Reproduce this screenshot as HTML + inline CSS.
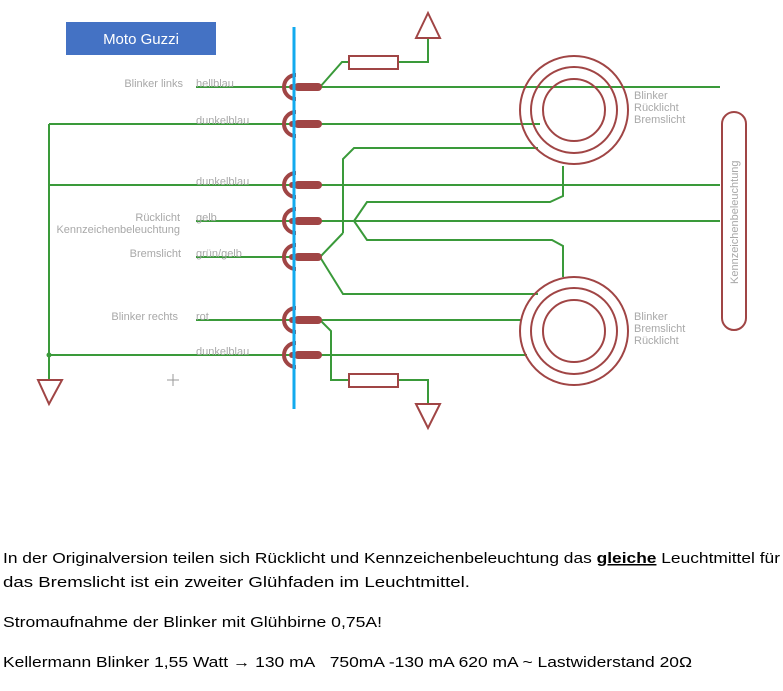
<!DOCTYPE html>
<html><head><meta charset="utf-8"><style>
html,body{margin:0;padding:0;background:#fff;width:783px;height:691px;overflow:hidden}
svg{display:block}
.g{fill:none;stroke:#3a9a3a;stroke-width:2}
.r{fill:none;stroke:#a04545;stroke-width:2}
.lbl{font-family:"Liberation Sans",sans-serif;font-size:11px;fill:#a8a8a8}
.p{font-family:"Liberation Sans",sans-serif;font-size:15px;fill:#000}
</style></head><body>
<svg width="783" height="691" viewBox="0 0 783 691">
<rect x="66" y="22" width="150" height="33" fill="#4472C4"/>
<text x="141" y="44" text-anchor="middle" font-family="Liberation Sans,sans-serif" font-size="15" fill="#fff">Moto Guzzi</text>

<g class="g">
<path d="M196 87H720"/>
<path d="M49 124H540"/>
<path d="M49 185H720"/>
<path d="M196 221H720"/>
<path d="M196 257H320"/>
<path d="M196 320H522"/>
<path d="M49 355H527"/>
<path d="M49 124V380"/>
<path d="M320 87L342 62H349M398 62H428V38"/>
<path d="M320 320L331 331V380H349M398 380H428V404"/>
<path d="M343 233V159L354 148H538"/>
<path d="M320 257L343 233"/>
<path d="M320 257L343 294H538"/>
<path d="M563 166V196L550 202H367L354 221L367 240H552L563 246V277"/>
</g>
<circle cx="49" cy="355" r="2.5" fill="#3a9a3a"/>

<g class="r">
<rect x="349" y="56" width="49" height="13"/>
<rect x="349" y="374" width="49" height="13"/>
<path d="M416 38L428 13L440 38Z"/>
<path d="M416 404L428 428L440 404Z"/>
<path d="M38 380L49 404L62 380Z"/>
<circle cx="574" cy="110" r="54"/><circle cx="574" cy="110" r="43"/><circle cx="574" cy="110" r="31"/>
<circle cx="574" cy="331" r="54"/><circle cx="574" cy="331" r="43"/><circle cx="574" cy="331" r="31"/>
<rect x="722" y="112" width="24" height="218" rx="12"/>
</g>

<g fill="none" stroke="#a04545" stroke-width="4">
<path d="M296 75A12 12 0 0 0 296 99"/><path d="M296 112A12 12 0 0 0 296 136"/>
<path d="M296 173A12 12 0 0 0 296 197"/><path d="M296 209A12 12 0 0 0 296 233"/>
<path d="M296 245A12 12 0 0 0 296 269"/><path d="M296 308A12 12 0 0 0 296 332"/>
<path d="M296 343A12 12 0 0 0 296 367"/>
</g>
<g fill="#a04545">
<circle cx="292" cy="87" r="3"/><circle cx="292" cy="124" r="3"/><circle cx="292" cy="185" r="3"/><circle cx="292" cy="221" r="3"/><circle cx="292" cy="257" r="3"/><circle cx="292" cy="320" r="3"/><circle cx="292" cy="355" r="3"/>
<rect x="294" y="83" width="28" height="8" rx="4"/><rect x="294" y="120" width="28" height="8" rx="4"/><rect x="294" y="181" width="28" height="8" rx="4"/><rect x="294" y="217" width="28" height="8" rx="4"/><rect x="294" y="253" width="28" height="8" rx="4"/><rect x="294" y="316" width="28" height="8" rx="4"/><rect x="294" y="351" width="28" height="8" rx="4"/>
</g>
<line x1="294" y1="27" x2="294" y2="409" stroke="#12aaee" stroke-width="3"/>
<path d="M173 374V386M167 380H179" stroke="#999" stroke-width="1"/>

<g class="lbl">
<text x="183" y="87" text-anchor="end">Blinker links</text>
<text x="196" y="87">hellblau</text>
<text x="196" y="124">dunkelblau</text>
<text x="196" y="185">dunkelblau</text>
<text x="180" y="221" text-anchor="end">Rücklicht</text>
<text x="180" y="233" text-anchor="end">Kennzeichenbeleuchtung</text>
<text x="196" y="221">gelb</text>
<text x="181" y="257" text-anchor="end">Bremslicht</text>
<text x="196" y="257">grün/gelb</text>
<text x="178" y="320" text-anchor="end">Blinker rechts</text>
<text x="196" y="320">rot</text>
<text x="196" y="355">dunkelblau</text>
<text x="634" y="99">Blinker</text>
<text x="634" y="111">Rücklicht</text>
<text x="634" y="123">Bremslicht</text>
<text x="634" y="320">Blinker</text>
<text x="634" y="332">Bremslicht</text>
<text x="634" y="344">Rücklicht</text>
<text transform="translate(738,284) rotate(-90)">Kennzeichenbeleuchtung</text>
</g>

<text class="p" x="3" y="563" textLength="777" lengthAdjust="spacingAndGlyphs">In der Originalversion teilen sich Rücklicht und Kennzeichenbeleuchtung das <tspan font-weight="bold" text-decoration="underline">gleiche</tspan> Leuchtmittel für</text>
<text class="p" x="3" y="587" textLength="467" lengthAdjust="spacingAndGlyphs">das Bremslicht ist ein zweiter Glühfaden im Leuchtmittel.</text>
<text class="p" x="3" y="627" textLength="379" lengthAdjust="spacingAndGlyphs">Stromaufnahme der Blinker mit Glühbirne 0,75A!</text>
<text class="p" x="3" y="667" textLength="689" lengthAdjust="spacingAndGlyphs">Kellermann Blinker 1,55 Watt → 130 mA&#160;&#160;&#160;750mA -130 mA 620 mA ~ Lastwiderstand 20Ω</text>
</svg>
</body></html>
